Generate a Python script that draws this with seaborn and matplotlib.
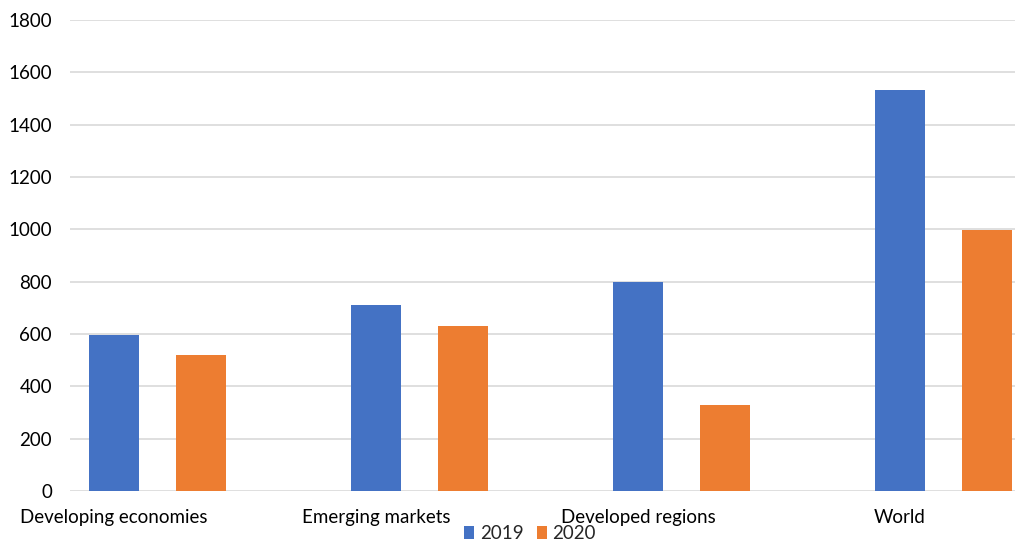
import matplotlib
matplotlib.use("Agg")
import matplotlib.pyplot as plt
import seaborn as sns
import pandas as pd

categories = ["Developing economies", "Emerging markets", "Developed regions", "World"]
years = ["2019", "2020"]
values_2019 = [595, 712, 798, 1531]
values_2020 = [519, 629, 327, 998]
y_ticks = [0, 200, 400, 600, 800, 1000, 1200, 1400, 1600, 1800]

df = pd.DataFrame({
    "category": categories * 2,
    "year": [years[0]] * len(categories) + [years[1]] * len(categories),
    "value": values_2019 + values_2020,
})

sns.set_theme(style="white")
plt.rcParams["font.family"] = ["Lato", "DejaVu Sans"]

fig = plt.figure(figsize=(10.19, 5.42), dpi=100)
ax = fig.add_axes([70 / 1019, 1 - 491 / 542, (1015 - 70) / 1019, (491 - 20) / 542])

palette = {"2019": "#4472C4", "2020": "#ED7D31"}
sns.barplot(data=df, x="category", y="value", hue="year", order=categories,
            hue_order=years, palette=palette, width=0.664, gap=0.425,
            saturation=1, linewidth=0, ax=ax, legend=True)

ax.set_ylim(0, 1800)
ax.set_xlim(-0.334, 3.273)
ax.set_yticks(y_ticks)
ax.set_yticklabels([str(t) for t in y_ticks])
ax.yaxis.grid(True, color="#d9d9d9", linewidth=1.2)
ax.set_axisbelow(True)
for s in ax.spines.values():
    s.set_visible(False)

# category labels sit under the first bar of each group
ax.set_xticks([i - 0.166 for i in range(len(categories))])
ax.set_xticklabels(categories)
ax.tick_params(axis="x", length=0, pad=13, labelsize=13.5, labelcolor="#000000")
ax.tick_params(axis="y", length=0, pad=13, labelsize=13.5, labelcolor="#000000")
ax.set_xlabel("")
ax.set_ylabel("")

handles, labels = ax.get_legend_handles_labels()
ax.legend_.remove()
fig.legend(handles, labels, loc="lower center", bbox_to_anchor=(0.52, 0.0),
           ncol=2, frameon=False, fontsize=13.5, handlelength=0.55,
           handleheight=0.7, handletextpad=0.3, columnspacing=0.7,
           borderpad=0.0, borderaxespad=0.0)

fig.savefig("out.png", dpi=100)
